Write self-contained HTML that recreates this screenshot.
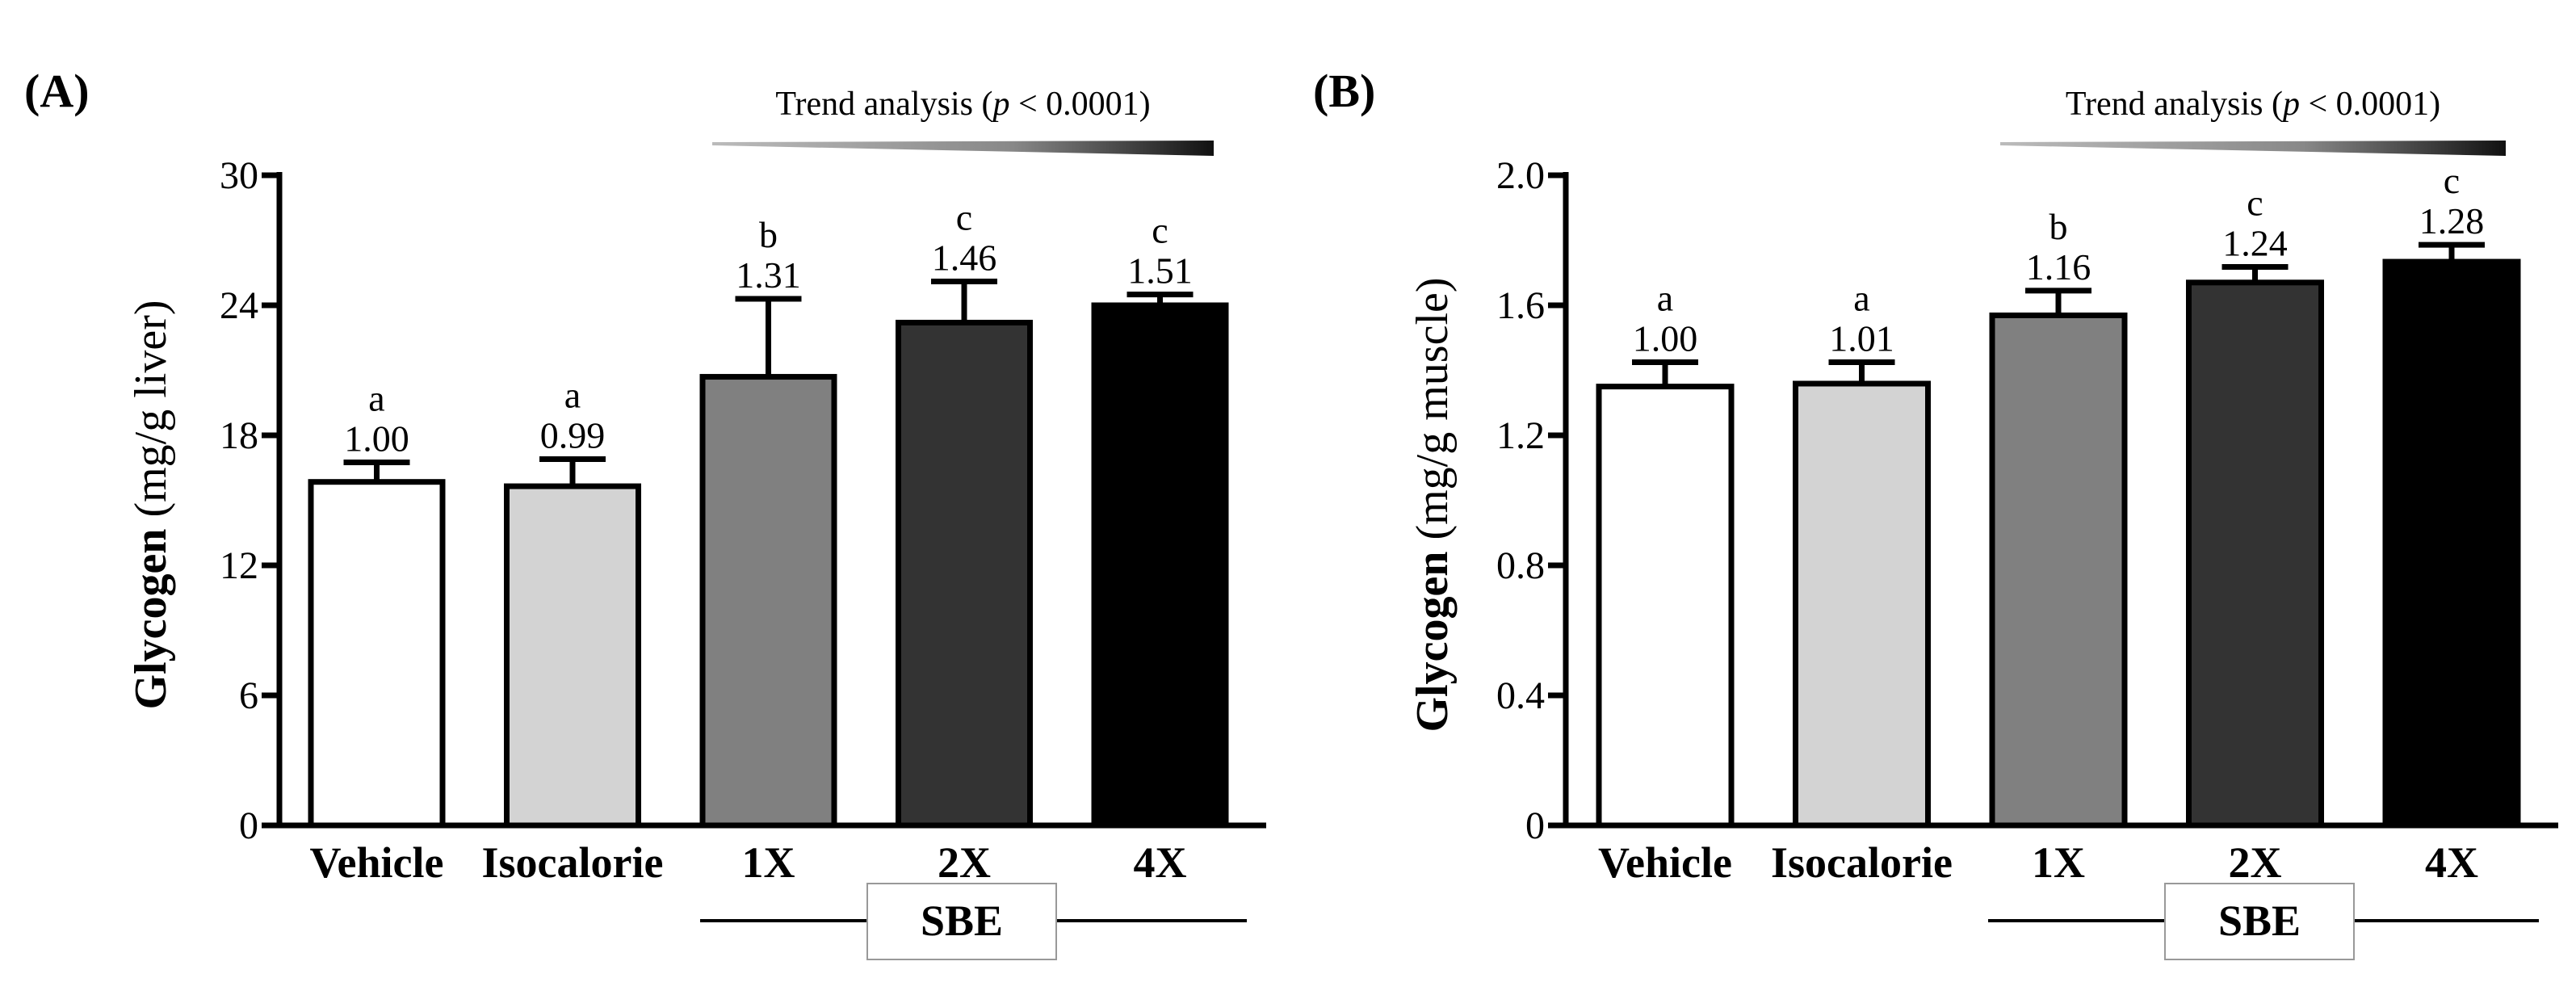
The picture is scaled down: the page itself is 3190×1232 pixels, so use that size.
<!DOCTYPE html>
<html><head><meta charset="utf-8"><style>
html,body{margin:0;padding:0;background:#fff}
svg{display:block}
text{font-family:"Liberation Serif",serif;fill:#000}
</style></head><body>
<svg id="fig" width="3190" height="1232" viewBox="0 0 3190 1232" xmlns="http://www.w3.org/2000/svg">
<defs>
<linearGradient id="wg" x1="0" x2="1" y1="0" y2="0"><stop offset="0" stop-color="#bbb"/><stop offset="0.6" stop-color="#888"/><stop offset="1" stop-color="#111"/></linearGradient>
</defs>
</svg>
<script>
const categories = ["Vehicle","Isocalorie","1X","2X","4X"];
const fills = ["#ffffff","#d3d3d3","#808080","#333333","#000000"];
const liverMeans = [15.85, 15.65, 20.7, 23.2, 24.0];
const liverErr = [0.9, 1.25, 3.6, 1.9, 0.5];
const liverRatio = ["1.00","0.99","1.31","1.46","1.51"];
const liverLetters = ["a","a","b","c","c"];
const liverTicks = [0,6,12,18,24,30];
const muscleMeans = [1.350, 1.359, 1.569, 1.670, 1.734];
const muscleErr = [0.075, 0.066, 0.076, 0.048, 0.052];
const muscleRatio = ["1.00","1.01","1.16","1.24","1.28"];
const muscleLetters = ["a","a","b","c","c"];
const muscleTickVals = [0,0.4,0.8,1.2,1.6,2.0];
const muscleTickLabels = ["0","0.4","0.8","1.2","1.6","2.0"];

const svg = document.getElementById('fig');
const NS = "http://www.w3.org/2000/svg";
function mk(tag, attrs, parent){
  const e = document.createElementNS(NS, tag);
  for (const k in attrs) e.setAttribute(k, attrs[k]);
  (parent||svg).appendChild(e);
  return e;
}

function panel(o){
  const g = mk('g', {});
  
  
  const y0 = 1022, yTop = 217;
  const yS = v => y0 - (v - 0) / o.max * (y0 - yTop);
  const xC = i => o.barX0 + i * o.step + o.barW / 2;

  const lab = mk('text', {x:o.labelX, y:132, 'font-size':58, 'font-weight':'bold'}, g);
  lab.textContent = o.label;
  
  

  // y axis
  const ax = mk('line', {x1:o.axisX, y1:yTop - 4, x2:o.axisX, y2:y0, stroke:'#000', 'stroke-width':7}, g);
  
  
  const xa = mk('line', {x1:o.axisX - 22, y1:y0, x2:o.axisEnd, y2:y0, stroke:'#000', 'stroke-width':7}, g);
  
  

  o.tickVals.forEach((v, i) => {
    const y = yS(v);
    const t = mk('line', {x1:o.axisX - 22, y1:y, x2:o.axisX, y2:y, stroke:'#000', 'stroke-width':7}, g);
    
    
    const tl = mk('text', {x:o.axisX - 26, y:y + 16, 'font-size':48, 'text-anchor':'end'}, g);
    tl.textContent = o.tickLabels[i];
    
    
  });

  // y title
  const tt = mk('text', {x:0, y:0, 'font-size':56, 'text-anchor':'middle', transform:`translate(${o.titleX},625) rotate(-90)`}, g);
  
  
  const b1 = mk('tspan', {'font-weight':'bold'}, tt); b1.textContent = 'Glycogen';
  const b2 = mk('tspan', {}, tt); b2.textContent = ' ' + o.unit;

  categories.forEach((c, i) => {
    const x = o.barX0 + i * o.step;
    const top = yS(o.means[i]);
    const et = yS(o.means[i] + o.err[i]);
    const cx = xC(i);
    const el = mk('line', {x1:cx, y1:top, x2:cx, y2:et, stroke:'#000', 'stroke-width':7}, g);
    
    
    const cap = mk('line', {x1:cx - 41, y1:et, x2:cx + 41, y2:et, stroke:'#000', 'stroke-width':7}, g);
    
    
    const r = mk('rect', {x:x, y:top, width:o.barW, height:y0 - top, fill:fills[i], stroke:'#000', 'stroke-width':7}, g);
    
    
    const vt = mk('text', {x:cx, y:et - 14, 'font-size':46, 'text-anchor':'middle'}, g);
    vt.textContent = o.ratio[i];
    
    
    const lt = mk('text', {x:cx, y:et - 64, 'font-size':46, 'text-anchor':'middle'}, g);
    lt.textContent = o.letters[i];
    
    
    const cl = mk('text', {x:cx, y:1086, 'font-size':54, 'font-weight':'bold', 'text-anchor':'middle'}, g);
    cl.textContent = c;
    
    
  });

  // trend
  const tr = mk('text', {x:(o.trendX1 + o.trendX2) / 2, y:142, 'font-size':42, 'text-anchor':'middle'}, g);
  
  
  const s1 = mk('tspan', {}, tr); s1.textContent = 'Trend analysis (';
  const s2 = mk('tspan', {'font-style':'italic'}, tr); s2.textContent = 'p';
  const s3 = mk('tspan', {}, tr); s3.textContent = ' < 0.0001)';
  const w = mk('polygon', {points:`${o.trendX1},176 ${o.trendX2},174 ${o.trendX2},193 ${o.trendX1},180`, fill:'url(#wg)'}, g);
  
  

  // SBE bracket
  const sl = mk('line', {x1:o.sbeL1, y1:1140, x2:o.sbeL2, y2:1140, stroke:'#000', 'stroke-width':4}, g);
  
  
  const sb = mk('rect', {x:o.sbeB, y:1094, width:234, height:94, fill:'#fff', stroke:'#999', 'stroke-width':2}, g);
  
  
  const st = mk('text', {x:o.sbeB + 117, y:1158, 'font-size':54, 'font-weight':'bold', 'text-anchor':'middle'}, g);
  st.textContent = 'SBE';
  
  
}

panel({name:'panel-a-liver', label:'(A)', labelX:30, axisX:346, axisEnd:1568, max:30,
  tickVals:liverTicks, tickLabels:liverTicks.map(String), titleX:205, unit:'(mg/g liver)',
  barX0:385, step:242.5, barW:163, means:liverMeans, err:liverErr, ratio:liverRatio, letters:liverLetters,
  trendX1:882, trendX2:1503, sbeL1:867, sbeL2:1544, sbeB:1074});
panel({name:'panel-b-muscle', label:'(B)', labelX:1626, axisX:1939, axisEnd:3168, max:2.0,
  tickVals:muscleTickVals, tickLabels:muscleTickLabels, titleX:1792, unit:'(mg/g muscle)',
  barX0:1980, step:243.5, barW:164, means:muscleMeans, err:muscleErr, ratio:muscleRatio, letters:muscleLetters,
  trendX1:2477, trendX2:3103, sbeL1:2462, sbeL2:3144, sbeB:2681});
</script>
</body></html>
